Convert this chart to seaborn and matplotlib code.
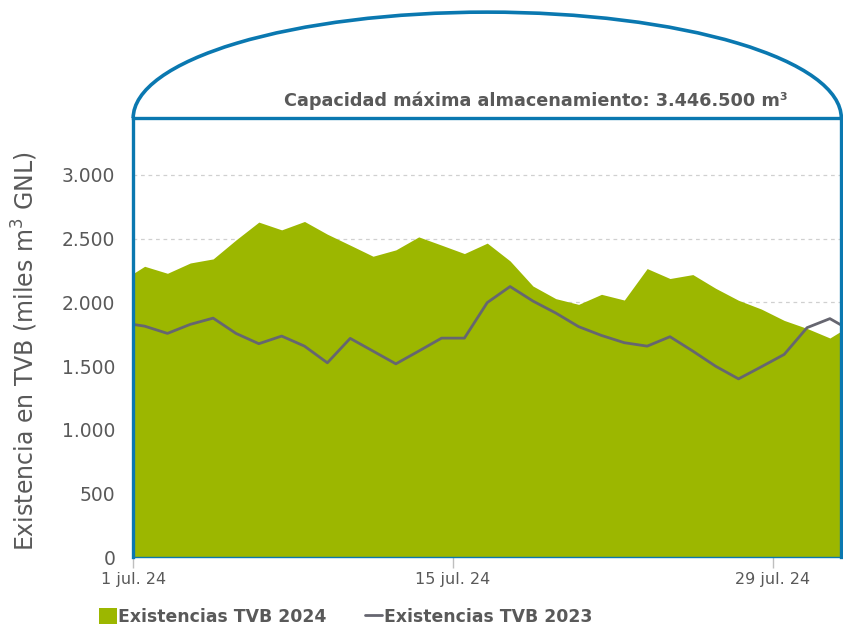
import matplotlib
matplotlib.use("Agg")
import matplotlib.pyplot as plt
import matplotlib.dates as mdates
from matplotlib.patches import Arc, Patch
from matplotlib.lines import Line2D
import numpy as np
import pandas as pd
import seaborn as sns

# fechas: del 30 jun al 1 ago (los extremos quedan recortados por el eje)
FECHAS = pd.date_range("2024-06-30", "2024-08-01", freq="D") + pd.Timedelta(hours=12)
EXIST_2024 = [
    2170, 2283, 2228, 2309, 2341, 2490, 2630, 2569, 2635, 2535, 2449,
    2362, 2412, 2514, 2449, 2383, 2465, 2325, 2128, 2029, 1984, 2063,
    2018, 2265, 2187, 2218, 2110, 2016, 1947, 1858, 1795, 1720, 1830,
]
EXIST_2023 = [
    1840, 1813, 1756, 1827, 1876, 1756, 1675, 1735, 1656, 1525, 1717,
    1617, 1517, 1617, 1719, 1719, 1998, 2124, 2010, 1916, 1809, 1740,
    1683, 1656, 1730, 1617, 1498, 1399, 1494, 1591, 1801, 1872, 1770,
]
CAPACIDAD = 3446.5
Y_TICKS = [0, 500, 1000, 1500, 2000, 2500, 3000]
X_TICKS = ["2024-07-01", "2024-07-15", "2024-07-29"]

VERDE = "#9cb700"
GRIS_LINEA = "#666670"
AZUL = "#0a78b0"
TEXTO = "#595959"

sns.set_theme(style="white")
plt.rcParams["font.family"] = ["DejaVu Sans"]

df = pd.DataFrame({"fecha": FECHAS, "2024": EXIST_2024, "2023": EXIST_2023})

fig = plt.figure(figsize=(8.43, 6.27), dpi=100)
ax = fig.add_axes([0.158, 0.1116, 0.84, 0.700])

ax.fill_between(df["fecha"], 0, df["2024"], color=VERDE, linewidth=0, zorder=2)
sns.lineplot(data=df, x="fecha", y="2023", color=GRIS_LINEA, linewidth=2, ax=ax, zorder=3)

ax.set_xlim(pd.Timestamp("2024-07-01"), pd.Timestamp("2024-08-01"))
ax.set_ylim(0, CAPACIDAD)
ax.set_yticks(Y_TICKS)
ax.set_yticklabels([f"{v:,}".replace(",", ".") for v in Y_TICKS], color=TEXTO, fontsize=13.5)
ax.yaxis.grid(True, linestyle=(0, (3, 3)), color="#d0d0d0", linewidth=0.9)
ax.xaxis.grid(False)
ax.set_axisbelow(True)

ax.set_xticks([pd.Timestamp(t) for t in X_TICKS])
ax.xaxis.set_major_formatter(
    plt.FuncFormatter(lambda v, pos: f"{mdates.num2date(v).day} jul. 24")
)
ax.tick_params(axis="x", colors="#bfbfbf", length=8, width=1, labelcolor=TEXTO,
               labelsize=11.5, pad=3, bottom=True)
ax.tick_params(axis="y", length=0, pad=13)

ax.set_xlabel("")
ax.set_ylabel("Existencia en TVB (miles m$^3$ GNL)", color=TEXTO, fontsize=17)
ax.yaxis.set_label_coords(-0.131, 0.468)

for lado in ["left", "top", "right"]:
    ax.spines[lado].set_color(AZUL)
    ax.spines[lado].set_linewidth(2.4)
    ax.spines[lado].set_zorder(5)
ax.spines["bottom"].set_color(AZUL)
ax.spines["bottom"].set_linewidth(1.0)

# cúpula del tanque
cupula = Arc((0.5, 1.0), 1.0, 0.483, theta1=0, theta2=180, transform=ax.transAxes,
             color=AZUL, linewidth=2.6, clip_on=False)
ax.add_patch(cupula)
ax.text(0.569, 1.04, "Capacidad máxima almacenamiento: 3.446.500 m³", transform=ax.transAxes,
        ha="center", va="center", fontsize=12.7, fontweight="bold", color=TEXTO)

handles = [
    Patch(facecolor=VERDE, edgecolor="none"),
    Line2D([0], [0], color=GRIS_LINEA, linewidth=2),
]
fig.legend(handles, ["Existencias TVB 2024", "Existencias TVB 2023"], loc="center",
           bbox_to_anchor=(0.41, 0.016), ncol=2, frameon=False, handlelength=1.0,
           handleheight=1.0, handletextpad=0.1, columnspacing=2.2,
           prop={"weight": "bold", "size": 12.4}, labelcolor=TEXTO,
           borderpad=0.1)

fig.savefig("out.png", dpi=100)
